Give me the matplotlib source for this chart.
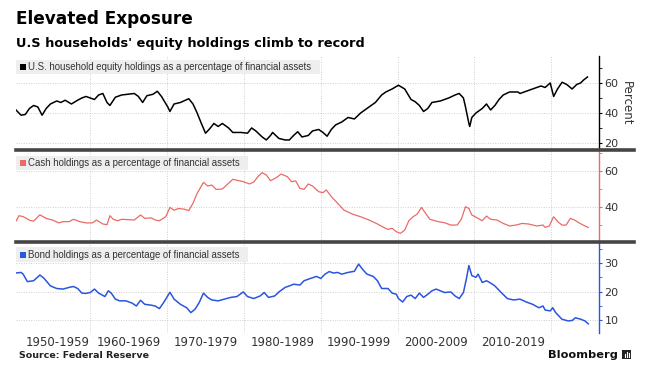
import matplotlib.pyplot as plt
from matplotlib.lines import Line2D
from matplotlib.patches import Rectangle

# values (decimal year, percent)
equity_years = [1950.34, 1951.0, 1951.55, 1952.09, 1952.63, 1953.18, 1953.73, 1954.27, 1954.82, 1955.64,
                1956.18, 1956.73, 1957.55, 1958.36, 1958.91, 1959.45, 1960.0, 1960.55, 1961.09, 1961.64,
                1962.18, 1962.56, 1963.27, 1964.09, 1964.91, 1965.73, 1966.27, 1966.82, 1967.37, 1968.18,
                1968.73, 1969.27, 1970.09, 1970.37, 1970.91, 1971.73, 1972.82, 1973.37, 1973.91, 1974.46,
                1975.0, 1975.55, 1976.09, 1976.64, 1977.19, 1978.0, 1978.55, 1979.64, 1980.46, 1981.0,
                1981.55, 1982.37, 1982.91, 1983.46, 1983.73, 1984.55, 1985.37, 1985.91, 1986.46, 1987.0,
                1987.55, 1988.37, 1988.92, 1989.73, 1990.28, 1990.82, 1991.37, 1991.92, 1992.73, 1993.55,
                1994.37, 1995.19, 1996.28, 1997.1, 1997.92, 1998.46, 1999.28, 2000.1, 2000.92, 2001.74,
                2002.28, 2002.83, 2003.37, 2003.92, 2004.46, 2005.56, 2006.65, 2007.47, 2008.01, 2008.56,
                2008.83, 2009.27, 2009.38, 2009.65, 2010.19, 2011.01, 2011.56, 2012.1, 2012.65, 2013.19,
                2013.74, 2014.56, 2015.65, 2015.92, 2017.01, 2018.1, 2018.65, 2019.19, 2019.85, 2020.3,
                2020.8, 2021.4, 2022.0, 2022.7, 2023.3, 2023.8, 2024.2, 2024.7]
equity = [42, 38.5, 39, 43, 45, 44, 38.5, 43, 46, 48,
          47, 48.5, 46, 48.5, 50, 51, 50, 49, 52, 53,
          47, 45, 50.5, 52, 52.5, 53, 51, 47, 51.5, 52.5,
          54.5, 51, 44, 41, 46, 47, 49.5, 46, 40, 33,
          26.5, 29.5, 33, 31, 33, 30, 27, 27, 26.5, 30,
          28, 24, 22, 25, 27, 23, 22, 22, 25, 27.5,
          24, 25, 28, 29, 27, 24.5, 29, 32, 34, 37,
          36, 40, 44, 47, 52, 54, 56, 58.5, 56, 49,
          47.5, 45, 41, 43, 47, 48, 50, 52, 53, 50,
          44, 33, 31, 37, 40, 43, 46, 42, 45, 49,
          52, 54, 54, 53, 55, 57, 58, 57, 60, 51,
          56, 60.5, 59, 56, 59, 60, 62, 64]

cash_years = [1950.34, 1950.73, 1951.27, 1952.09, 1952.63, 1953.45, 1954.27, 1955.09, 1955.91, 1956.45,
              1957.27, 1957.82, 1958.64, 1959.45, 1960.27, 1960.82, 1961.64, 1962.18, 1962.56, 1963.0,
              1963.55, 1964.09, 1964.91, 1965.73, 1966.55, 1967.09, 1967.91, 1968.46, 1969.0, 1969.82,
              1970.37, 1970.91, 1971.46, 1972.27, 1972.82, 1973.37, 1973.91, 1974.73, 1975.28, 1975.82,
              1976.37, 1977.19, 1978.0, 1978.55, 1979.37, 1979.91, 1980.73, 1981.28, 1981.82, 1982.37,
              1982.91, 1983.46, 1984.28, 1984.82, 1985.64, 1986.19, 1986.73, 1987.28, 1987.82, 1988.37,
              1988.92, 1989.73, 1990.28, 1990.71, 1991.37, 1992.19, 1993.01, 1994.1, 1995.19, 1996.28,
              1997.37, 1998.19, 1998.74, 1999.28, 1999.83, 2000.37, 2000.92, 2001.46, 2002.01, 2002.55,
              2003.1, 2003.64, 2004.19, 2005.28, 2006.1, 2006.92, 2007.74, 2008.28, 2008.83, 2009.27,
              2009.65, 2010.47, 2011.01, 2011.56, 2012.1, 2012.92, 2013.74, 2014.56, 2015.38, 2016.19,
              2017.01, 2018.1, 2018.92, 2019.19, 2019.74, 2020.28, 2020.83, 2021.38, 2021.92, 2022.47,
              2023.01, 2023.56, 2024.37, 2024.81]
cash = [32, 35, 34.5, 32.5, 32, 35.5, 33.5, 32.6, 31, 31.7,
        31.7, 33, 31.7, 31, 31, 32.6, 30.4, 30, 35, 33,
        32.2, 33, 32.8, 32.6, 35.4, 33.5, 33.8, 32.6, 32.2, 34.4,
        39.6, 38, 39, 38.6, 37.8, 41.9, 47.4, 53.5, 51.5, 52,
        49.6, 49.8, 53, 55.2, 54.4, 53.9, 52.6, 53.7, 56.7, 58.9,
        57.6, 54.4, 56.3, 58.1, 56.7, 53.9, 54.3, 50.2, 49.6, 52.6,
        51.5, 48.3, 47.8, 49.3, 45.6, 41.9, 38.1, 35.9, 34.4, 32.6,
        30.4, 28.5, 27.4, 28, 26.1, 25.2, 27, 32.2, 34.4, 35.9,
        39.6, 36.3, 33, 31.7, 31.1, 29.8, 29.8, 33, 40, 39,
        35.4, 33.5, 32.2, 34.8, 33, 32.6, 30.7, 29.3, 29.8, 30.7,
        30.4, 29.3, 29.8, 28.5, 29.3, 34.4, 31.7, 29.8, 29.8, 33.5,
        32.6, 31.1, 29.3, 28.5]

bond_years = [1950.34, 1951.0, 1951.27, 1951.82, 1952.63, 1953.45, 1954.0, 1954.82, 1955.64, 1956.45,
              1957.27, 1957.82, 1958.36, 1958.91, 1959.45, 1960.0, 1960.55, 1961.09, 1961.91, 1962.35,
              1962.73, 1963.27, 1963.82, 1964.64, 1965.46, 1966.0, 1966.55, 1967.09, 1967.91, 1968.46,
              1969.0, 1969.55, 1970.37, 1970.91, 1971.73, 1972.55, 1973.09, 1973.64, 1974.18, 1974.73,
              1975.28, 1975.82, 1976.64, 1977.46, 1978.28, 1979.09, 1979.91, 1980.46, 1981.28, 1982.1,
              1982.64, 1983.19, 1984.0, 1984.55, 1985.37, 1985.91, 1986.46, 1987.28, 1987.82, 1988.64,
              1989.46, 1990.0, 1990.55, 1991.1, 1991.64, 1992.19, 1992.73, 1993.55, 1994.37, 1994.92,
              1995.46, 1996.01, 1996.83, 1997.37, 1997.92, 1998.74, 1999.28, 1999.83, 2000.1, 2000.65,
              2001.19, 2001.74, 2002.28, 2002.83, 2003.37, 2003.92, 2004.46, 2005.01, 2005.56, 2006.1,
              2006.92, 2007.47, 2008.01, 2008.56, 2008.94, 2009.27, 2009.65, 2010.19, 2010.47, 2011.01,
              2011.56, 2012.1, 2012.65, 2013.47, 2014.28, 2015.1, 2015.92, 2016.74, 2017.56, 2018.38,
              2018.92, 2019.19, 2019.85, 2020.18, 2020.56, 2021.38, 2022.2, 2022.74, 2023.12, 2023.83,
              2024.37, 2024.81]
bond = [26.5, 26.7, 26.1, 23.5, 23.8, 25.8, 24.6, 22, 21.1, 20.9,
        21.5, 21.8, 21.1, 19.5, 19.4, 19.7, 20.9, 19.5, 18.3, 20.3,
        19.5, 17.4, 16.8, 16.8, 16, 15, 17, 15.6, 15.3, 15,
        14.1, 16.2, 19.8, 17.4, 15.6, 14.4, 12.7, 13.9, 16.2, 19.5,
        18, 17.1, 16.8, 17.4, 18, 18.3, 19.9, 18.3, 17.6, 18.5,
        19.7, 18, 18.5, 19.9, 21.5, 22, 22.6, 22.3, 23.8, 24.6,
        25.3, 24.6, 26.1, 27, 26.5, 26.7, 26.1, 26.7, 27.1, 29.6,
        27.7, 26.1, 25.3, 23.8, 21.1, 21.1, 19.5, 19.1, 17.6, 16.4,
        18.3, 18.8, 17.6, 19.5, 18, 19.1, 20.3, 20.9, 20.3, 19.7,
        19.9, 18.5, 17.6, 19.7, 24.4, 29.1, 25.6, 25, 26.1, 23.2,
        23.8, 23, 22, 19.7, 17.6, 17.1, 17.4, 16.4, 15.6, 14.4,
        15, 13.6, 13.3, 14.4, 12.7, 10.4, 9.8, 10, 10.9, 10.4,
        9.8, 8.8]

decade_labels = ["1950-1959", "1960-1969", "1970-1979", "1980-1989", "1990-1999", "2000-2009", "2010-2019"]
label_pos = [1955.7, 1965, 1975, 1985, 1995, 2005, 2015]

W, H = 656, 384


def fx(px):
    return px / W


def fy(py):
    return 1 - py / H


fig = plt.figure(figsize=(W / 100, H / 100), dpi=100)

panels = [
    dict(x=equity_years, y=equity, color="black", top=56, bot=150, ylim=(15.3, 78),
         major=[20, 40, 60], minor=[30, 50, 70], lw=1.1,
         label="U.S. household equity holdings as a percentage of financial assets", box=(60, 74, 320)),
    dict(x=cash_years, y=cash, color="#ec6a66", top=151, bot=242, ylim=(20.4, 70.9),
         major=[40, 60], minor=[30, 50, 70], lw=0.9,
         label="Cash holdings as a percentage of financial assets", box=(156, 170, 248)),
    dict(x=bond_years, y=bond, color="#2a55e0", top=242, bot=333, ylim=(5.6, 37.3),
         major=[10, 20, 30], minor=[15, 25, 35], lw=1.1,
         label="Bond holdings as a percentage of financial assets", box=(247, 262, 248)),
]

axes = []
for i, p in enumerate(panels):
    ax = fig.add_axes([fx(16), fy(p["bot"]), fx(599 - 16), (p["bot"] - p["top"]) / H])
    ax.plot(p["x"], p["y"], color=p["color"], lw=p["lw"], zorder=3)
    ax.set_xlim(1950.34, 2026.2)
    ax.set_ylim(*p["ylim"])
    for s in ["top", "left", "bottom"]:
        ax.spines[s].set_visible(False)
    ax.spines["right"].set_color(p["color"])
    ax.spines["right"].set_linewidth(1)
    ax.yaxis.tick_right()
    ax.set_yticks(p["major"])
    ax.set_yticks(p["minor"], minor=True)
    ax.tick_params(axis="y", which="both", direction="out", colors=p["color"],
                   labelcolor="#333333", labelsize=8, pad=1.5)
    ax.tick_params(axis="y", which="major", length=2.5, width=0.8)
    ax.tick_params(axis="y", which="minor", length=2, width=0.6)
    ax.set_xticks(range(1960, 2021, 10))
    ax.tick_params(axis="x", which="both", length=0, labelbottom=False)
    ax.grid(True, which="major", ls=(0, (1, 1.5)), color="#cfcfcf", lw=0.7)
    ax.set_facecolor("none")
    axes.append(ax)

    # legend box
    y0, y1, x1 = p["box"]
    fig.patches.append(Rectangle((fx(16), fy(y1)), fx(x1 - 16), (y1 - y0) / H,
                                 transform=fig.transFigure, facecolor="#eeeeee", edgecolor="none", zorder=2))
    fig.patches.append(Rectangle((fx(20), fy((y0 + y1) / 2 + 3)), fx(6), 6 / H,
                                 transform=fig.transFigure, facecolor=p["color"], edgecolor="none", zorder=3))
    fig.text(fx(28), fy((y0 + y1) / 2), p["label"], fontsize=6.9, color="#333333",
             va="center", ha="left", family="Liberation Sans", zorder=4)

# bottom panel decade labels
axes[2].set_xticks(label_pos, minor=True)
axes[2].set_xticklabels(decade_labels, minor=True)
axes[2].tick_params(axis="x", which="minor", length=0, labelbottom=True, labelsize=8.5,
                    labelcolor="#333333", pad=2.5)

# separator bars
for yy in [150, 242]:
    fig.add_artist(Line2D([fx(16), fx(634)], [fy(yy), fy(yy)], color="#454545", lw=2.6))

fig.text(fx(626), fy(103), "Percent", rotation=-90, ha="center", va="center", fontsize=8.5, color="#333333")

fig.text(fx(16), fy(19), "Elevated Exposure", fontsize=12.2, fontweight="bold", va="center", ha="left")
fig.text(fx(16), fy(44), "U.S households' equity holdings climb to record", fontsize=9.3,
         fontweight="bold", va="center", ha="left")
fig.text(fx(19), fy(355), "Source: Federal Reserve", fontsize=6.8, fontweight="bold", va="center", ha="left",
         color="#222222")
fig.text(fx(618), fy(355), "Bloomberg", fontsize=8.2, fontweight="bold", va="center", ha="right", color="#111111")
fig.patches.append(Rectangle((fx(622), fy(359)), fx(9), 9 / H, transform=fig.transFigure,
                             facecolor="#222222", edgecolor="none"))
for k, hh in enumerate([3, 5, 4]):
    fig.add_artist(Line2D([fx(624.5 + 2 * k)] * 2, [fy(357), fy(357 - hh)], color="white", lw=0.8))

plt.savefig("out.png", dpi=100)
